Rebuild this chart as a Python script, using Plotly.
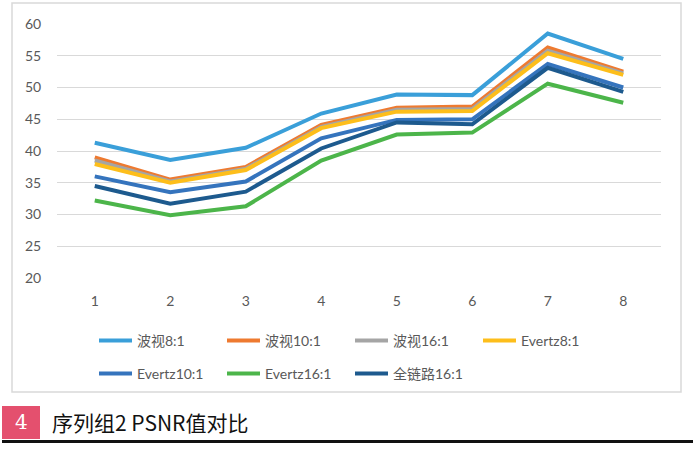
import plotly.graph_objects as go

categories = ["1", "2", "3", "4", "5", "6", "7", "8"]
series_names = ["波视8:1", "波视10:1", "波视16:1", "Evertz8:1", "Evertz10:1", "Evertz16:1", "全链路16:1"]
bosi_8 = [41.3, 38.6, 40.5, 45.9, 48.9, 48.8, 58.5, 54.5]
bosi_10 = [39.0, 35.5, 37.5, 44.1, 46.8, 47.0, 56.3, 52.5]
bosi_16 = [38.5, 35.2, 37.2, 43.8, 46.5, 46.6, 55.8, 52.2]
evertz_8 = [37.95, 35.0, 37.0, 43.6, 46.2, 46.3, 55.4, 52.0]
evertz_10 = [36.0, 33.5, 35.2, 42.0, 44.9, 45.0, 53.7, 50.0]
evertz_16 = [32.2, 29.9, 31.3, 38.5, 42.6, 42.9, 50.6, 47.6]
full_16 = [34.5, 31.7, 33.6, 40.4, 44.5, 44.2, 53.1, 49.3]
y_ticks = [20, 25, 30, 35, 40, 45, 50, 55, 60]

values = [bosi_8, bosi_10, bosi_16, evertz_8, evertz_10, evertz_16, full_16]
colors = ["#3A9FD9", "#EE7A30", "#A5A5A5", "#FDBE1B", "#3574BD", "#4CB54A", "#1D5A8E"]
legend_ids = ["legend", "legend", "legend", "legend", "legend2", "legend2", "legend2"]

W, H = 693, 453
L, R, T, B = 57, 32, 24, 175
pw, ph = W - L - R, H - T - B

def px(x):
    return (x - L) / pw

def py(y):
    return (H - B - y) / ph

fig = go.Figure()
for name, vals, col, lg in zip(series_names, values, colors, legend_ids):
    fig.add_trace(go.Scatter(
        x=categories, y=vals, name=name, mode="lines",
        line=dict(color=col, width=4), legend=lg,
    ))

font_main = "Lato, 'Noto Sans CJK SC', sans-serif"
legend_common = dict(
    orientation="h", xref="container", yref="container",
    xanchor="left", yanchor="top",
    entrywidth=80, entrywidthmode="pixels", itemwidth=33,
    font=dict(family=font_main, size=14, color="#595959"),
    bgcolor="rgba(0,0,0,0)", borderwidth=0, tracegroupgap=0,
)

fig.update_layout(
    width=W, height=H,
    margin=dict(l=L, r=R, t=T, b=B, autoexpand=False),
    paper_bgcolor="white", plot_bgcolor="white",
    showlegend=True,
    legend=dict(x=94 / W, y=1 - 325 / H, **legend_common),
    legend2=dict(x=94 / W, y=1 - 358 / H, **legend_common),
    xaxis=dict(
        type="category", showgrid=False, zeroline=False, showline=False,
        ticks="outside", ticklen=10, tickcolor="rgba(0,0,0,0)",
        tickfont=dict(family=font_main, size=14, color="#595959"),
        range=[-0.5, 7.5], automargin=False,
    ),
    yaxis=dict(
        range=[20, 60], tickvals=y_ticks, showgrid=True,
        gridcolor="#D9D9D9", gridwidth=1, zeroline=False, showline=False,
        ticks="outside", ticklen=12, tickcolor="rgba(0,0,0,0)",
        tickfont=dict(family=font_main, size=14, color="#595959"),
        automargin=False,
    ),
    shapes=[
        dict(type="rect", xref="paper", yref="paper",
             x0=px(12), x1=px(681), y0=py(392), y1=py(3),
             line=dict(color="#D9D9D9", width=1.5), fillcolor="rgba(0,0,0,0)", layer="below"),
        dict(type="rect", xref="paper", yref="paper",
             x0=px(2), x1=px(40), y0=py(439), y1=py(406),
             line=dict(width=0), fillcolor="#E4506E"),
        dict(type="line", xref="paper", yref="paper",
             x0=px(2), x1=px(693), y0=py(441.5), y1=py(441.5),
             line=dict(color="#111111", width=3)),
    ],
    annotations=[
        dict(xref="paper", yref="paper", x=px(21), y=py(422.5), text="4",
             showarrow=False, xanchor="center", yanchor="middle",
             font=dict(family="'DejaVu Serif', 'Liberation Serif', serif", size=20, color="white")),
        dict(xref="paper", yref="paper", x=px(50), y=py(422.5), text="序列组2 PSNR值对比",
             showarrow=False, xanchor="left", yanchor="middle",
             font=dict(family="'Noto Sans CJK SC', sans-serif", size=21, color="#111111")),
    ],
)

fig.write_html(
    "out.html",
    config={"displayModeBar": False},
    post_script="document.body.style.margin='0';document.body.style.overflow='hidden';",
)
